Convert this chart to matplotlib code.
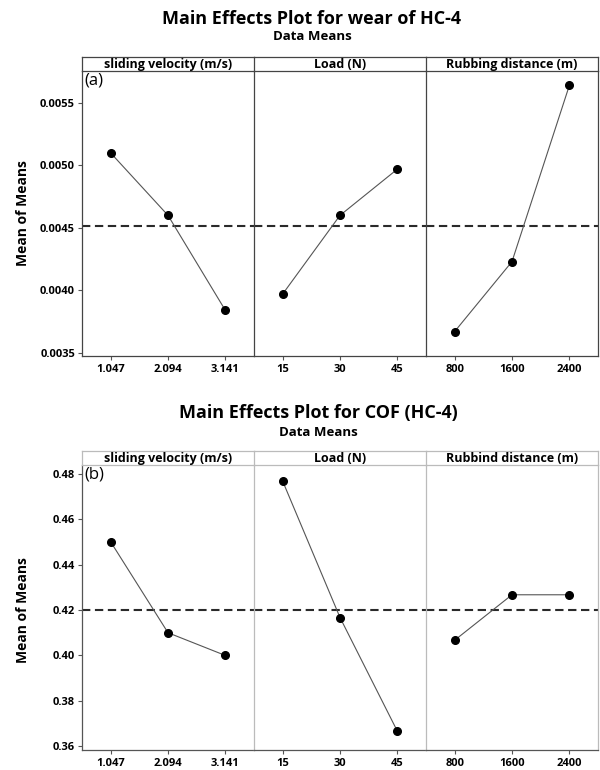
import numpy as np
import matplotlib
matplotlib.use('Agg')
import matplotlib.pyplot as plt

plt.rcParams['font.family'] = ['Open Sans', 'DejaVu Sans']

# factor levels
velocity = ['1.047', '2.094', '3.141']
load = ['15', '30', '45']
distance = ['800', '1600', '2400']

# means of means, wear (a)
wear_velocity = [0.00510, 0.00460, 0.00384]
wear_load = [0.00397, 0.00460, 0.00497]
wear_distance = [0.00367, 0.00423, 0.00564]

# means of means, COF (b)
cof_velocity = [0.450, 0.410, 0.400]
cof_load = [0.4767, 0.4167, 0.3667]
cof_distance = [0.4067, 0.4267, 0.4267]

strips_a = ['sliding velocity (m/s)', 'Load (N)', 'Rubbing distance (m)']
strips_b = ['sliding velocity (m/s)', 'Load (N)', 'Rubbind distance (m)']

W, H = 600, 770
fig = plt.figure(figsize=(W / 100, H / 100), dpi=100)


def fx(px):
    return px / W


def fy(py):
    return 1 - py / H


def panel(top, bottom, strip_top, levels, series, strips, ylim, yticks, yfmt,
          tag, frame_col, div_col):
    mean = np.mean([v for s in series for v in s])
    lefts = [82, 254, 426]
    width = 172
    axes = []
    for i in range(3):
        ax = fig.add_axes([fx(lefts[i]), fy(bottom), fx(width), (bottom - top) / H])
        ax.patch.set_visible(False)
        x = np.arange(1, 4)
        ax.plot(x, series[i], color='#555555', lw=0.8, marker='o', ms=5.5,
                mfc='black', mec='black', zorder=3)
        ax.axhline(mean, color='#2a2a2a', lw=1.5, ls=(0, (4, 2.2)), zorder=2)
        ax.set_xlim(0.5, 3.5)
        ax.set_ylim(*ylim)
        ax.set_xticks(x)
        ax.set_xticklabels(levels[i], fontsize=8, fontweight='bold')
        ax.tick_params(axis='x', length=3, width=0.8, color='#555555', pad=2.5)
        for sp in ax.spines.values():
            sp.set_color(div_col)
            sp.set_linewidth(0.9)
        ax.spines['bottom'].set_color(frame_col)
        ax.spines['top'].set_visible(False)
        if i < 2:
            ax.spines['right'].set_visible(False)
        if i == 0:
            ax.spines['left'].set_color(frame_col)
            ax.set_yticks(yticks)
            ax.set_yticklabels([yfmt.format(t) for t in yticks], fontsize=8,
                               fontweight='bold')
            ax.tick_params(axis='y', length=3, width=0.8, color='#555555', pad=2)
            ax.text(0.012, 0.995, tag, transform=ax.transAxes, fontsize=12,
                    va='top', ha='left')
        else:
            ax.set_yticks([])

        sax = fig.add_axes([fx(lefts[i]), fy(top), fx(width), (top - strip_top) / H])
        sax.patch.set_visible(False)
        sax.set_xticks([])
        sax.set_yticks([])
        for sp in sax.spines.values():
            sp.set_color(div_col)
            sp.set_linewidth(0.9)
        if i < 2:
            sax.spines['right'].set_visible(False)
        sax.text(0.5, 0.45, strips[i], transform=sax.transAxes, ha='center',
                 va='center', fontsize=9, fontweight='bold')
        axes.append(ax)
    return axes


panel(71, 356, 57, [velocity, load, distance],
      [wear_velocity, wear_load, wear_distance], strips_a,
      (0.003474, 0.005756), [0.0035, 0.0040, 0.0045, 0.0050, 0.0055], '{:.4f}',
      '(a)', '#444444', '#444444')

panel(465, 750, 451, [velocity, load, distance],
      [cof_velocity, cof_load, cof_distance], strips_b,
      (0.3584, 0.4838), [0.36, 0.38, 0.40, 0.42, 0.44, 0.46, 0.48], '{:.2f}',
      '(b)', '#555555', '#bbbbbb')

fig.text(0.52, fy(19), 'Main Effects Plot for wear of HC-4', ha='center',
         va='center', fontsize=13, fontweight='bold')
fig.text(0.52, fy(37), 'Data Means', ha='center', va='center', fontsize=9.5,
         fontweight='bold')
fig.text(0.53, fy(413), 'Main Effects Plot for COF (HC-4)', ha='center',
         va='center', fontsize=13, fontweight='bold')
fig.text(0.53, fy(433), 'Data Means', ha='center', va='center', fontsize=9.5,
         fontweight='bold')

fig.text(fx(23), fy(213), 'Mean of Means', rotation=90, ha='center',
         va='center', fontsize=10, fontweight='bold')
fig.text(fx(23), fy(610), 'Mean of Means', rotation=90, ha='center',
         va='center', fontsize=10, fontweight='bold')

fig.savefig('out.png', dpi=100)
